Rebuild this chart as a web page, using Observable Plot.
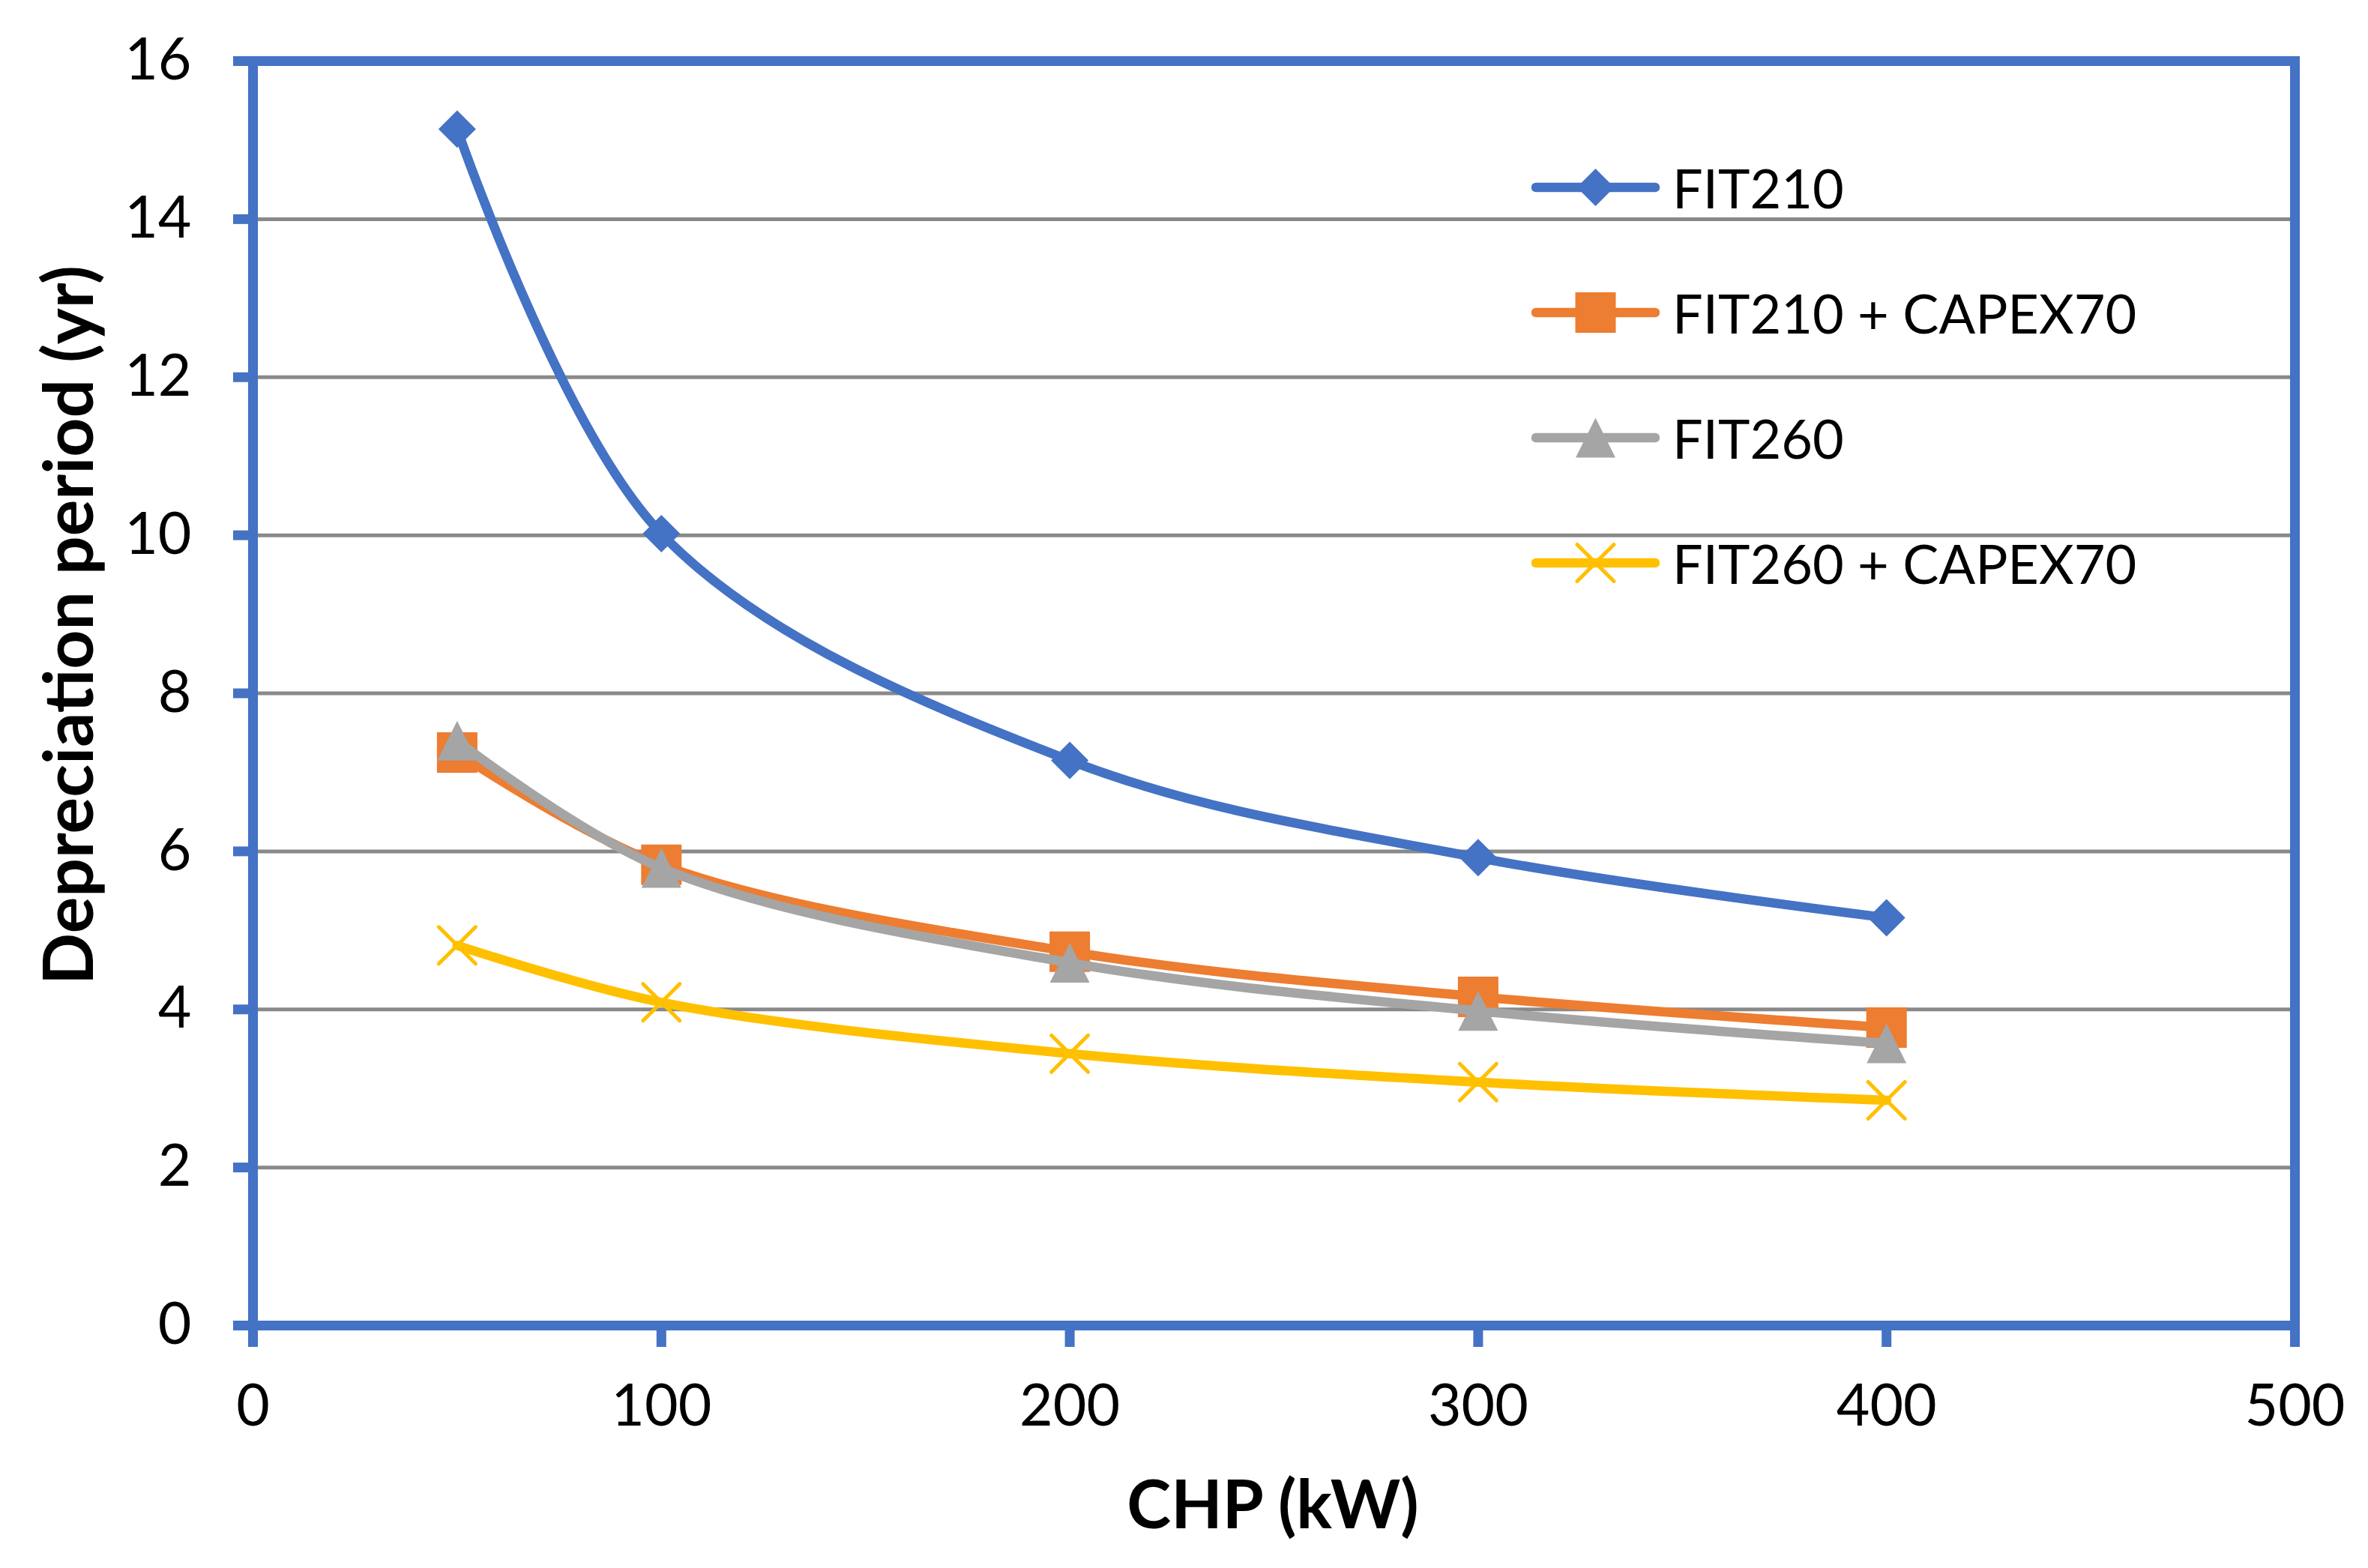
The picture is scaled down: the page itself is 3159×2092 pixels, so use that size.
<!DOCTYPE html>
<html>
<head>
<meta charset="utf-8">
<script src="https://cdn.jsdelivr.net/npm/d3@7"></script>
<script src="https://cdn.jsdelivr.net/npm/@observablehq/plot@0.6"></script>
<style>
  html, body { margin: 0; padding: 0; background: white; }
  #wrap { position: relative; width: 3159px; height: 2092px; font-family: Lato, "Open Sans", sans-serif; }
  .title { position: absolute; font-weight: bold; color: black; white-space: nowrap; line-height: 1; }
  #legend { position: absolute; left: 2043px; top: 166px; }
  .row { display: flex; align-items: center; height: 167px; }
  .row span { font-size: 72px; margin-left: 17px; color: black; white-space: nowrap; }
</style>
</head>
<body>
<div id="wrap"></div>
<script>
// ---- data ----
const chp = [50, 100, 200, 300, 400];
const seriesNames = ["FIT210", "FIT210 + CAPEX70", "FIT260", "FIT260 + CAPEX70"];
const fit210 = [15.14, 10.02, 7.15, 5.92, 5.16];
const fit210Capex70 = [7.25, 5.83, 4.73, 4.16, 3.77];
const fit260 = [7.40, 5.79, 4.59, 3.98, 3.57];
const fit260Capex70 = [4.81, 4.09, 3.44, 3.08, 2.85];
const xTicks = [0, 100, 200, 300, 400, 500];
const yTicks = [0, 2, 4, 6, 8, 10, 12, 14, 16];
const yGrid = [2, 4, 6, 8, 10, 12, 14];

// ---- styles ----
const colors = ["#4472C4", "#ED7D31", "#A5A5A5", "#FFC000"];
const axisBlue = "#4472C4";
const gridGray = "#898989";

// custom Excel-like symbols (sqrt(size) = full marker width)
const diamondSym = {draw(c, size) { const h = Math.sqrt(size) / 2; c.moveTo(0, -h); c.lineTo(h, 0); c.lineTo(0, h); c.lineTo(-h, 0); c.closePath(); }};
const squareSym = {draw(c, size) { const h = Math.sqrt(size) / 2; c.rect(-h, -h, 2 * h, 2 * h); }};
const triangleSym = {draw(c, size) { const h = Math.sqrt(size) / 2; c.moveTo(0, -h); c.lineTo(h, h); c.lineTo(-h, h); c.closePath(); }};
const xSym = {draw(c, size) { const h = Math.sqrt(size) / 2; c.moveTo(-h, -h); c.lineTo(h, h); c.moveTo(h, -h); c.lineTo(-h, h); }};
const symbols = [diamondSym, squareSym, triangleSym, xSym];
const widths = [50, 54, 53, 49];

const values = [fit210, fit210Capex70, fit260, fit260Capex70];
const data = [];
seriesNames.forEach((s, i) => chp.forEach((x, j) => data.push({series: s, idx: i, x, y: values[i][j]})));

const rOf = w => w / Math.sqrt(Math.PI);

const seriesMarks = [];
seriesNames.forEach((s, i) => {
  const d = data.filter(e => e.idx === i);
  seriesMarks.push(Plot.line(d, {x: "x", y: "y", stroke: colors[i], strokeWidth: 12.5, curve: "catmull-rom", strokeLinejoin: "round", strokeLinecap: "round"}));
  if (i === 3) {
    seriesMarks.push(Plot.dot(d, {x: "x", y: "y", symbol: symbols[i], r: rOf(widths[i]), fill: "none", stroke: colors[i], strokeWidth: 5, strokeLinecap: "round"}));
  } else {
    seriesMarks.push(Plot.dot(d, {x: "x", y: "y", symbol: symbols[i], r: rOf(widths[i]), fill: colors[i], stroke: "none"}));
  }
});

const chart = Plot.plot({
  width: 3159,
  height: 2092,
  marginLeft: 337,
  marginRight: 98,
  marginTop: 81,
  marginBottom: 324,
  style: {fontFamily: "Lato, 'Open Sans', sans-serif", fontSize: "77px", color: "black", background: "white"},
  x: {domain: [0, 500]},
  y: {domain: [0, 16]},
  marks: [
    Plot.gridY(yGrid, {stroke: gridGray, strokeOpacity: 1, strokeWidth: 5}),
    Plot.axisY(yTicks, {tickSize: 26, tickPadding: 56, stroke: axisBlue, strokeWidth: 13, fill: "black", fontSize: 77, label: null, tickFormat: d => String(d)}),
    Plot.axisX(xTicks, {tickSize: 29, tickPadding: 50, stroke: axisBlue, strokeWidth: 13, fill: "black", fontSize: 77, label: null, tickFormat: d => String(d)}),
    Plot.frame({stroke: axisBlue, strokeWidth: 13}),
    ...seriesMarks
  ]
});

const wrap = document.getElementById("wrap");
wrap.appendChild(chart);

// axis titles
const xt = document.createElement("div");
xt.className = "title";
xt.textContent = "CHP (kW)";
xt.style.fontSize = "89px";
xt.style.left = "1698px";
xt.style.top = "1960px";
xt.style.transform = "translateX(-50%)";
wrap.appendChild(xt);

const yt = document.createElement("div");
yt.className = "title";
yt.textContent = "Depreciation period (yr)";
yt.style.fontSize = "91px";
yt.style.left = "88px";
yt.style.top = "834px";
yt.style.transform = "translate(-50%, -50%) rotate(-90deg)";
wrap.appendChild(yt);

// legend
const legend = document.createElement("div");
legend.id = "legend";
const ns = "http://www.w3.org/2000/svg";
seriesNames.forEach((s, i) => {
  const row = document.createElement("div");
  row.className = "row";
  const svg = document.createElementNS(ns, "svg");
  svg.setAttribute("width", 171);
  svg.setAttribute("height", 60);
  const line = document.createElementNS(ns, "line");
  line.setAttribute("x1", 6); line.setAttribute("x2", 165);
  line.setAttribute("y1", 30); line.setAttribute("y2", 30);
  line.setAttribute("stroke", colors[i]); line.setAttribute("stroke-width", 12.5);
  line.setAttribute("stroke-linecap", "round");
  svg.appendChild(line);
  const p = d3.path();
  const w = widths[i];
  symbols[i].draw(p, w * w);
  const path = document.createElementNS(ns, "path");
  path.setAttribute("d", p.toString());
  path.setAttribute("transform", "translate(85.5,30)");
  if (i === 3) { path.setAttribute("fill", "none"); path.setAttribute("stroke", colors[i]); path.setAttribute("stroke-width", 5); path.setAttribute("stroke-linecap", "round"); }
  else path.setAttribute("fill", colors[i]);
  svg.appendChild(path);
  row.appendChild(svg);
  const t = document.createElement("span");
  t.textContent = s;
  row.appendChild(t);
  legend.appendChild(row);
});
wrap.appendChild(legend);
</script>
</body>
</html>
